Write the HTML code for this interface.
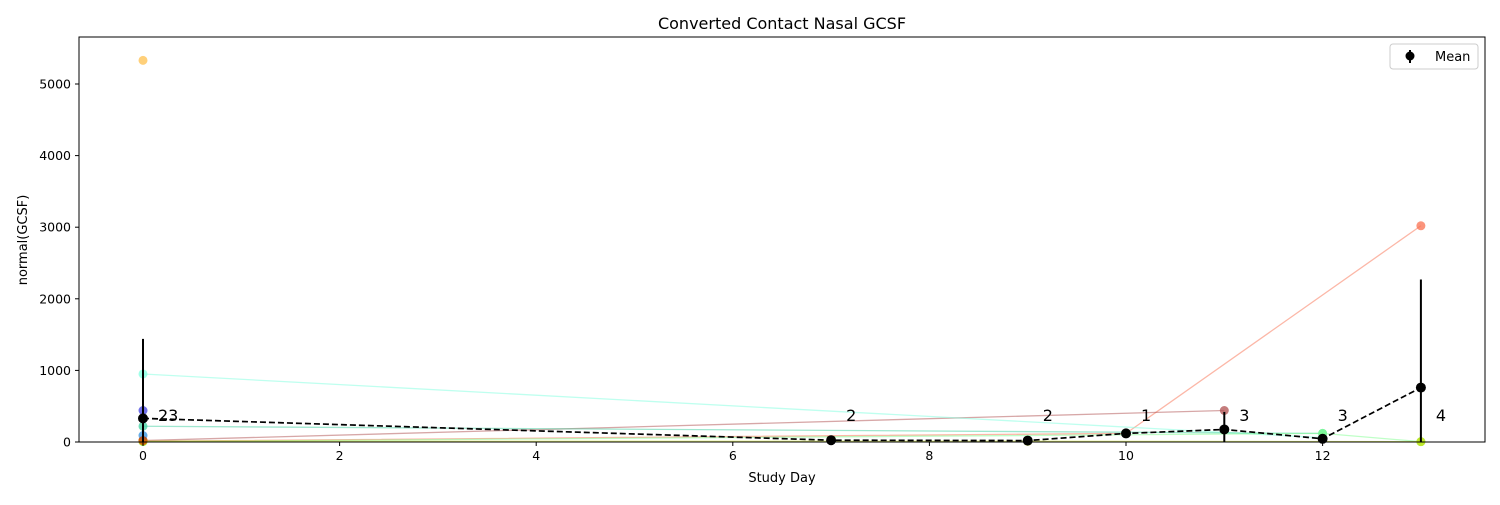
<!DOCTYPE html>
<html><head><meta charset="utf-8"><style>
body{margin:0;background:#fff;font-family:"Liberation Sans","DejaVu Sans",sans-serif}
</style></head><body>
<svg id="c" width="1500" height="500" xmlns="http://www.w3.org/2000/svg" style="font-family:'DejaVu Sans','Liberation Sans',sans-serif"></svg>
<script>
const meanDays=[0,7,9,10,11,12,13];
const meanVals=[330,25,20,120,175,45,760];
const meanErr=[1110,0,0,0,245,0,1510];
const counts=["23","2","2","1","3","3","4"];
const xTicks=[0,2,4,6,8,10,12];
const yTicks=[0,1000,2000,3000,4000,5000];
const seriesColors=["#ffc04d","#fa7050","#b05050","#80ffe0","#40d0a0","#4040e0","#80ff90","#c8e000","#3090e0","#d04000"];
const seriesDays=[[0],[0,10,13],[0,11],[0,12],[0,12],[0],[0,12,13],[0,9,13],[0],[0]];
const seriesVals=[[5330],[10,120,3020],[20,440],[950,60],[220,120],[440],[5,120,5],[10,10,5],[90],[20]];
const X0=143,XS=98.3,Y0=442,YS=0.0716;
const x=d=>X0+d*XS, y=v=>Y0-v*YS;
const s=document.getElementById('c');const NS="http://www.w3.org/2000/svg";
function el(t,a,p){const e=document.createElementNS(NS,t);for(const k in a)e.setAttribute(k,a[k]);(p||s).appendChild(e);return e;}
const T=el('text',{x:782,y:29,'font-size':16,'text-anchor':'middle'});T.textContent="Converted Contact Nasal GCSF";


seriesDays.forEach((ds,i)=>{
 const g=el('g',{});
 
 
 if(ds.length>1)el('polyline',{points:ds.map((d,j)=>x(d)+','+y(seriesVals[i][j])).join(' '),fill:'none',stroke:seriesColors[i],'stroke-opacity':0.5,'stroke-width':1.3},g);
 ds.forEach((d,j)=>el('circle',{cx:x(d),cy:y(seriesVals[i][j]),r:4.5,fill:seriesColors[i],'fill-opacity':0.75},g));
});
const mg=el('g',{});


meanDays.forEach((d,i)=>{if(meanErr[i]>0)el('line',{x1:x(d),x2:x(d),y1:y(Math.max(0,meanVals[i]-meanErr[i])),y2:y(meanVals[i]+meanErr[i]),stroke:'#000','stroke-width':2},mg);});
el('polyline',{points:meanDays.map((d,i)=>x(d)+','+y(meanVals[i])).join(' '),fill:'none',stroke:'#000','stroke-width':1.7,'stroke-dasharray':'6,3'},mg);
meanDays.forEach((d,i)=>el('circle',{cx:x(d),cy:y(meanVals[i]),r:5,fill:'#000'},mg));
meanDays.forEach((d,i)=>{const t=el('text',{x:x(d)+15,y:421,'font-size':16},mg);t.textContent=counts[i];
 
 });
const ax=el('rect',{x:79,y:37,width:1406,height:405,fill:'none',stroke:'#000','stroke-width':1});


xTicks.forEach(v=>{el('line',{x1:x(v),x2:x(v),y1:442,y2:446,stroke:'#000'});const t=el('text',{x:x(v),y:460,'font-size':12.5,'text-anchor':'middle'});t.textContent=v;
 
 });
yTicks.forEach(v=>{el('line',{x1:75,x2:79,y1:y(v),y2:y(v),stroke:'#000'});const t=el('text',{x:71,y:y(v)+4.5,'font-size':12.5,'text-anchor':'end'});t.textContent=v;
 
 });
const xt=el('text',{x:782,y:482,'font-size':13,'text-anchor':'middle'});xt.textContent="Study Day";


const yt=el('text',{x:0,y:0,'font-size':13,'text-anchor':'middle',transform:'translate(27,240) rotate(-90)'});yt.textContent="normal(GCSF)";


const lg=el('g',{});


el('rect',{x:1390,y:44,width:88,height:25,rx:3,fill:'#fff',stroke:'#ccc'},lg);
el('line',{x1:1410,x2:1410,y1:50,y2:63,stroke:'#000','stroke-width':2},lg);
el('circle',{cx:1410,cy:56,r:4.5,fill:'#000'},lg);
const lt=el('text',{x:1435,y:61,'font-size':13},lg);lt.textContent="Mean";
</script>
</body></html>
